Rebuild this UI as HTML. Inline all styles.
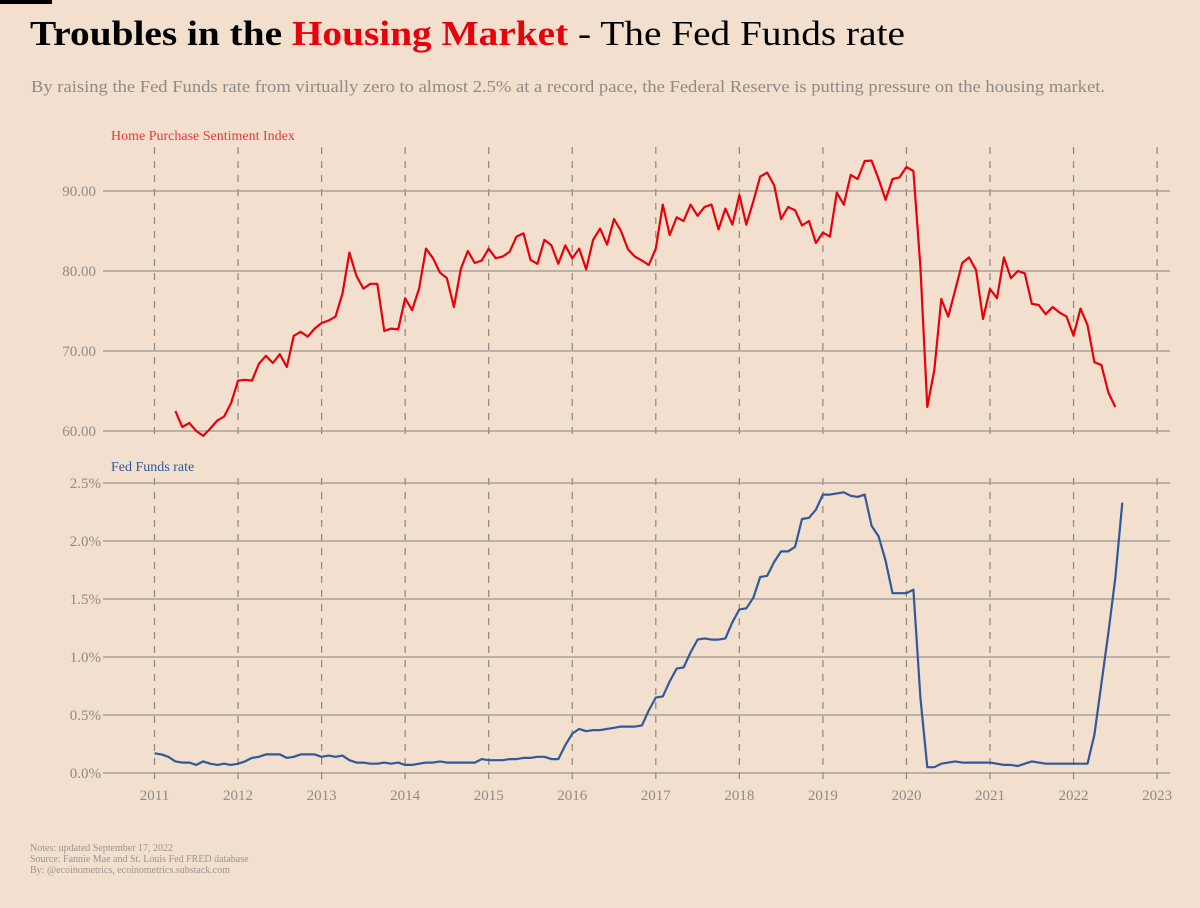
<!DOCTYPE html>
<html><head><meta charset="utf-8"><style>
html,body{margin:0;padding:0;background:#f2dfcd;}
svg{display:block;font-family:"Liberation Serif",serif;}
</style></head><body>
<svg id="chart" width="1200" height="908" viewBox="0 0 1200 908" xmlns="http://www.w3.org/2000/svg">
<rect width="1200" height="908" fill="#f2dfcd"/>
<rect x="0" y="0" width="52" height="4" fill="#000"/>
<text x="30" y="45" font-size="35" textLength="875" lengthAdjust="spacingAndGlyphs"><tspan font-weight="bold" fill="#000">Troubles in the </tspan><tspan font-weight="bold" fill="#e8000b">Housing Market</tspan><tspan fill="#000"> - The Fed Funds rate</tspan></text>
<text x="31" y="92" font-size="16.5" fill="#8f8a86" textLength="1074" lengthAdjust="spacingAndGlyphs">By raising the Fed Funds rate from virtually zero to almost 2.5% at a record pace, the Federal Reserve is putting pressure on the housing market.</text>
<text x="111" y="140" font-size="14" fill="#e8383d">Home Purchase Sentiment Index</text>
<text x="111" y="471" font-size="14" fill="#2e5a9c">Fed Funds rate</text>
<g id="grid"></g>
<g id="marks"></g>
<text x="30" y="851" font-size="10" fill="#9a9490">Notes: updated September 17, 2022</text>
<text x="30" y="862" font-size="10" fill="#9a9490">Source: Fannie Mae and St. Louis Fed FRED database</text>
<text x="30" y="873" font-size="10" fill="#9a9490">By: @ecoinometrics, ecoinometrics.substack.com</text>
</svg>
<script>
const years = [2011,2012,2013,2014,2015,2016,2017,2018,2019,2020,2021,2022,2023];
const hpsiTicks = [60,70,80,90];
const fedTicks = [0,0.5,1.0,1.5,2.0,2.5];
const hpsiStart = 2011 + 3/12; // April 2011
const hpsiValues = [62.5,60.5,61.0,60.0,59.4,60.3,61.3,61.8,63.5,66.3,66.4,66.3,68.4,69.4,68.5,69.6,68.0,71.9,72.4,71.8,72.8,73.5,73.8,74.3,77.2,82.3,79.4,77.8,78.4,78.4,72.5,72.8,72.7,76.6,75.1,77.8,82.8,81.6,79.8,79.1,75.5,80.3,82.5,81.0,81.3,82.8,81.6,81.8,82.4,84.3,84.7,81.4,80.9,83.9,83.2,80.9,83.2,81.6,82.8,80.2,83.9,85.3,83.3,86.5,85.0,82.7,81.8,81.3,80.75,82.8,
88.3,84.5,86.7,86.25,88.3,86.9,88.0,88.3,85.2,87.8,85.8,
89.5,85.8,88.7,91.8,92.3,90.7,86.5,88.0,87.6,85.7,86.25,83.5,
84.8,84.3,89.8,88.3,92.0,91.5,93.75,93.8,91.5,88.9,91.5,91.7,
93.0,92.5,80.5,63.0,67.6,76.5,74.3,77.6,81.0,81.7,80.1,74.0,
77.75,76.6,81.7,79.1,80.0,79.7,75.9,75.75,74.6,75.5,74.8,74.3,
71.9,75.3,73.25,68.6,68.25,64.8,63.0];
const fedStart = 2011; // Jan 2011
const fedValues = [0.17,0.16,0.14,0.10,0.09,0.09,0.07,0.10,0.08,0.07,0.08,0.07,
0.08,0.10,0.13,0.14,0.16,0.16,0.16,0.13,0.14,0.16,0.16,0.16,
0.14,0.15,0.14,0.15,0.11,0.09,0.09,0.08,0.08,0.09,0.08,0.09,
0.07,0.07,0.08,0.09,0.09,0.10,0.09,0.09,0.09,0.09,0.09,0.12,
0.11,0.11,0.11,0.12,0.12,0.13,0.13,0.14,0.14,0.12,0.12,0.24,
0.34,0.38,0.36,0.37,0.37,0.38,0.39,0.40,0.40,0.40,0.41,0.54,
0.65,0.66,0.79,0.90,0.91,1.04,1.15,1.16,1.15,1.15,1.16,1.30,
1.41,1.42,1.51,1.69,1.70,1.82,1.91,1.91,1.95,2.19,2.20,2.27,
2.40,2.40,2.41,2.42,2.39,2.38,2.40,2.13,2.04,1.83,1.55,1.55,
1.55,1.58,0.65,0.05,0.05,0.08,0.09,0.10,0.09,0.09,0.09,0.09,
0.09,0.08,0.07,0.07,0.06,0.08,0.10,0.09,0.08,0.08,0.08,0.08,
0.08,0.08,0.08,0.33,0.77,1.21,1.68,2.33];

const NS='http://www.w3.org/2000/svg';
const X0=103, X1=1170;
function xScale(t){ return 154.5 + (t-2011)*83.55; }
function yTop(v){ return 431 - (v-60)*8; }
function yBot(v){ return 773 - v*116; }
function mk(tag, attrs, parent){ const e=document.createElementNS(NS,tag); for(const k in attrs) e.setAttribute(k,attrs[k]); parent.appendChild(e); return e; }
const grid=document.getElementById('grid'), marks=document.getElementById('marks');

// vertical dashed year lines
years.forEach(y=>{
  const x=xScale(y);
  const a=mk('line',{x1:x,x2:x,y1:147,y2:440,stroke:'#8c8680','stroke-width':1.2,'stroke-dasharray':'7,7'},grid);
  
  
  const b=mk('line',{x1:x,x2:x,y1:478,y2:779,stroke:'#8c8680','stroke-width':1.2,'stroke-dasharray':'7,7'},grid);
  
  
  const t=mk('text',{x:x,y:800,'font-size':15,fill:'#8f8a86','text-anchor':'middle'},grid);
  t.textContent=y;
  
  
});
hpsiTicks.forEach(v=>{
  const y=yTop(v);
  const l=mk('line',{x1:X0,x2:X1,y1:y,y2:y,stroke:'#9a9490','stroke-width':1.3},grid);
  
  
  const t=mk('text',{x:96,y:y+5,'font-size':15,fill:'#8f8a86','text-anchor':'end'},grid);
  t.textContent=v.toFixed(2);
  
  
});
fedTicks.forEach(v=>{
  const y=yBot(v);
  const l=mk('line',{x1:X0,x2:X1,y1:y,y2:y,stroke:'#9a9490','stroke-width':1.3},grid);
  
  
  const t=mk('text',{x:101,y:y+5,'font-size':15,fill:'#8f8a86','text-anchor':'end'},grid);
  t.textContent=v.toFixed(1)+'%';
  
  
});
const hp=hpsiValues.map((v,i)=>xScale(hpsiStart+i/12).toFixed(1)+','+yTop(v).toFixed(1)).join(' ');
const l1=mk('polyline',{points:hp,fill:'none',stroke:'#e8000b','stroke-width':2.2,'stroke-linejoin':'round'},marks);


const fp=fedValues.map((v,i)=>xScale(fedStart+i/12).toFixed(1)+','+yBot(v).toFixed(1)).join(' ');
const l2=mk('polyline',{points:fp,fill:'none',stroke:'#2e5a9c','stroke-width':2.2,'stroke-linejoin':'round'},marks);


</script>
</body></html>
